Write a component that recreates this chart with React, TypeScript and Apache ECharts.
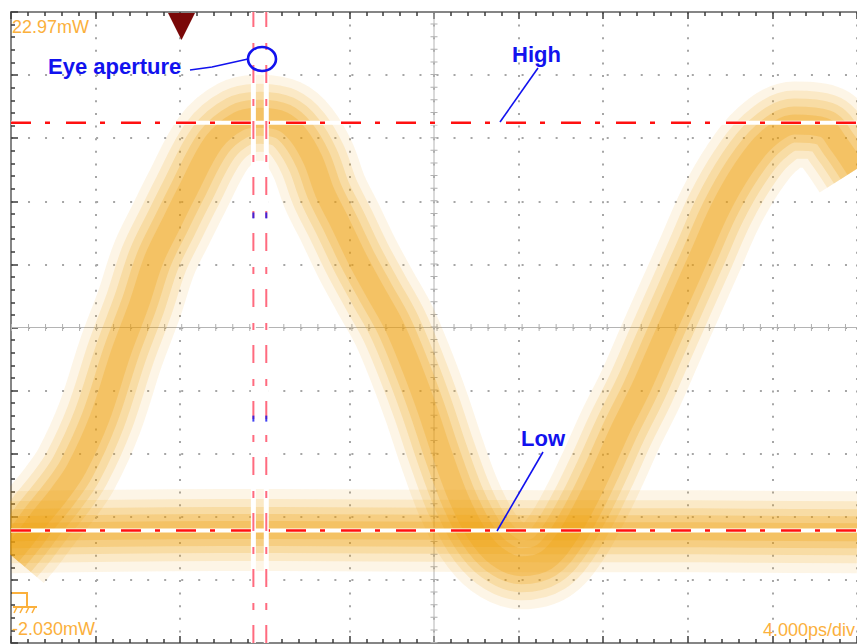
import React, { useEffect, useRef } from "react";
import * as echarts from "echarts";

// ---- data (time in ps, optical power in mW) ----
const timePs = [0, 0.66, 1.36, 2.30, 3.10, 4.18, 5.21, 6.06, 6.76, 7.56, 8.31, 9.58, 10.75, 11.78, 12.86, 13.57, 14.27, 14.84, 15.59, 16.38, 17.23, 18.12, 18.97, 19.67, 20.38, 21.17, 22.02, 22.96, 24.13, 25.31, 26.24, 27.18, 27.98, 28.83, 29.77, 30.70, 31.64, 32.58, 33.52, 34.60, 35.73, 37.04, 38.45, 39.15, 39.95];
const pulseMw = [1.45, 2.12, 2.91, 3.89, 4.88, 6.86, 9.50, 11.40, 13.18, 14.56, 15.82, 17.80, 18.63, 18.78, 18.63, 18.11, 17.12, 15.82, 14.56, 13.18, 11.87, 10.53, 8.83, 7.25, 5.47, 3.70, 2.31, 1.41, 1.01, 1.25, 2.12, 3.50, 4.88, 6.46, 8.04, 9.82, 11.60, 13.37, 15.15, 16.73, 17.91, 18.51, 18.39, 17.72, 16.73];
const lowBandT = [0, 5, 10, 15, 20, 25, 30, 35, 40];
const lowBandMw = [2.36, 2.42, 2.45, 2.44, 2.42, 2.40, 2.40, 2.38, 2.36];
const levelNames = ["High", "Low"];
const levelMw = [18.58, 2.43];
const cursorPs = [11.46, 12.07];
const cursorMarkMw = [14.91, 6.86];
const screenTop = 22.97;
const screenBottom = -2.03;
const timeSpan = [0, 40];
const timePerDiv = 4;
const scaleLabels = ["22.97mW", "-2.030mW", "4.000ps/div"];
const annotation = "Eye aperture";

const ORANGE = "rgba(240,160,10,";
const LABEL_ORANGE = "#fbb03c";
const BLUE = "#1212ee";

function App() {
  const ref = useRef<HTMLDivElement>(null);

  useEffect(() => {
    if (!ref.current) return;
    const chart = echarts.init(ref.current, undefined, { renderer: "svg" });

    const pulse = timePs.map((t, i) => [t, pulseMw[i]]);
    const lowBand = lowBandT.map((t, i) => [t, lowBandMw[i]]);

    const band = (data: number[][], width: number, alpha: number, z: number) => ({
      type: "line",
      xAxisIndex: 0,
      yAxisIndex: 0,
      data,
      smooth: 0.35,
      showSymbol: false,
      silent: true,
      clip: true,
      z,
      lineStyle: { width, color: ORANGE + alpha + ")", cap: "butt", join: "round" },
    });

    const seg = (
      data: number[][],
      yAxisIndex: number,
      color: string,
      width: number,
      type: any,
      z: number
    ) => ({
      type: "line",
      xAxisIndex: 0,
      yAxisIndex,
      data,
      showSymbol: false,
      silent: true,
      clip: false,
      z,
      lineStyle: { color, width, type },
    });

    const pulseWidths = [86, 68, 52, 36, 20];
    const lowWidths = [82, 62, 46, 32, 18];
    const alphas = [0.1, 0.14, 0.18, 0.22, 0.25];

    const series: any[] = [
      // center cross of the scope screen (division axis)
      seg([[20, 0], [20, 10]], 1, "#b4b4b4", 1, "solid", 1),
      seg([[0, 5], [40, 5]], 1, "#b4b4b4", 1, "solid", 1),
      seg([[20, 0], [20, 10]], 1, "#b0b0b0", 7, [1, 11.62], 1),
      seg([[0, 5], [40, 5]], 1, "#b0b0b0", 7, [1, 16.02], 1),
    ];
    pulseWidths.forEach((w, i) => series.push(band(pulse, w, alphas[i], 2)));
    lowWidths.forEach((w, i) => series.push(band(lowBand, w, alphas[i], 2)));

    levelMw.forEach((v) => {
      series.push(seg([[timeSpan[0], v], [timeSpan[1], v]], 0, "#ffffff", 4, "solid", 3));
      series.push(seg([[timeSpan[0], v], [timeSpan[1], v]], 0, "#ff1010", 2.5, [20, 14, 5, 16], 4));
    });
    cursorPs.forEach((t) => {
      series.push(seg([[t, screenBottom], [t, screenTop]], 0, "#ffffff", 5, "solid", 5));
      series.push(seg([[t, screenBottom], [t, screenTop]], 0, "rgba(255,70,95,0.8)", 2, [18, 15, 7, 16], 6));
    });
    series.push({
      type: "scatter",
      xAxisIndex: 0,
      yAxisIndex: 0,
      silent: true,
      z: 7,
      symbol: "rect",
      symbolSize: [2, 6],
      itemStyle: { color: BLUE },
      data: cursorPs.flatMap((t) => cursorMarkMw.map((m) => [t, m])),
    });

    const tickStyle = { color: "#3a3a3a", width: 1.5 };
    const frameAxis = (extra: any) => ({
      type: "value",
      axisLine: { show: true, onZero: false, lineStyle: { color: "#858585", width: 2 } },
      axisTick: { show: true, inside: true, length: 7, lineStyle: tickStyle },
      minorTick: { show: true, splitNumber: 5, length: 4, lineStyle: tickStyle },
      axisLabel: { show: false },
      ...extra,
    });

    const textFont = 'bold 22px "Liberation Sans", Arial, sans-serif';
    const labelFont = '18px "Liberation Sans", Arial, sans-serif';

    chart.setOption({
      animation: false,
      backgroundColor: "#ffffff",
      grid: { left: 11, top: 12, width: 851, height: 631 },
      xAxis: [
        frameAxis({
          min: timeSpan[0],
          max: timeSpan[1],
          interval: timePerDiv,
          position: "bottom",
          splitLine: { show: true, lineStyle: { color: "#a6a6a6", width: 2, type: [2, 10.62] } },
        }),
        frameAxis({
          min: timeSpan[0],
          max: timeSpan[1],
          interval: timePerDiv,
          position: "top",
          splitLine: { show: false },
        }),
      ],
      yAxis: [
        { type: "value", min: screenBottom, max: screenTop, show: false },
        frameAxis({
          min: 0,
          max: 10,
          interval: 1,
          position: "left",
          splitLine: { show: true, lineStyle: { color: "#a6a6a6", width: 2, type: [2, 15.02] } },
        }),
      ],
      series,
      graphic: [
        // keep the margin left of the screen frame blank
        { type: "rect", shape: { x: 0, y: 0, width: 10, height: 644 }, style: { fill: "#ffffff" }, z: 15 },
        { type: "polygon", shape: { points: [[168, 13], [195, 13], [181.5, 40]] }, style: { fill: "#7a0808" }, z: 20 },
        { type: "text", x: 12, y: 27, style: { text: scaleLabels[0], font: labelFont, fill: LABEL_ORANGE, align: "left", verticalAlign: "middle" }, z: 20 },
        { type: "text", x: 12, y: 629, style: { text: scaleLabels[1], font: labelFont, fill: LABEL_ORANGE, align: "left", verticalAlign: "middle" }, z: 20 },
        { type: "text", x: 763, y: 630, style: { text: scaleLabels[2], font: labelFont, fill: LABEL_ORANGE, align: "left", verticalAlign: "middle" }, z: 20 },
        // ground symbol
        { type: "polyline", shape: { points: [[12, 593], [27, 593], [27, 607]] }, style: { stroke: LABEL_ORANGE, lineWidth: 2, fill: null }, z: 20 },
        { type: "line", shape: { x1: 13, y1: 607, x2: 37, y2: 607 }, style: { stroke: LABEL_ORANGE, lineWidth: 2 }, z: 20 },
        { type: "line", shape: { x1: 17, y1: 607, x2: 14, y2: 613 }, style: { stroke: LABEL_ORANGE, lineWidth: 1.5 }, z: 20 },
        { type: "line", shape: { x1: 23, y1: 607, x2: 20, y2: 613 }, style: { stroke: LABEL_ORANGE, lineWidth: 1.5 }, z: 20 },
        { type: "line", shape: { x1: 29, y1: 607, x2: 26, y2: 613 }, style: { stroke: LABEL_ORANGE, lineWidth: 1.5 }, z: 20 },
        { type: "line", shape: { x1: 35, y1: 607, x2: 32, y2: 613 }, style: { stroke: LABEL_ORANGE, lineWidth: 1.5 }, z: 20 },
        // annotations
        { type: "text", x: 48, y: 66, style: { text: annotation, font: textFont, fill: BLUE, align: "left", verticalAlign: "middle" }, z: 20 },
        { type: "polyline", shape: { points: [[190, 70], [212, 67], [248, 59]] }, style: { stroke: BLUE, lineWidth: 1.6, fill: null }, z: 20 },
        { type: "ellipse", shape: { cx: 262, cy: 59, rx: 14, ry: 12 }, style: { stroke: BLUE, lineWidth: 2.6, fill: null }, z: 20 },
        { type: "text", x: 512, y: 54, style: { text: levelNames[0], font: textFont, fill: BLUE, align: "left", verticalAlign: "middle" }, z: 20 },
        { type: "line", shape: { x1: 538, y1: 68, x2: 500, y2: 122 }, style: { stroke: BLUE, lineWidth: 1.6 }, z: 20 },
        { type: "text", x: 521, y: 438, style: { text: levelNames[1], font: textFont, fill: BLUE, align: "left", verticalAlign: "middle" }, z: 20 },
        { type: "line", shape: { x1: 543, y1: 452, x2: 497, y2: 531 }, style: { stroke: BLUE, lineWidth: 1.6 }, z: 20 },
      ],
    });

    return () => chart.dispose();
  }, []);

  return (
    <div
      ref={ref}
      style={{ position: "fixed", left: 0, top: 0, width: 857, height: 644, background: "#fff" }}
    />
  );
}

export default App;
